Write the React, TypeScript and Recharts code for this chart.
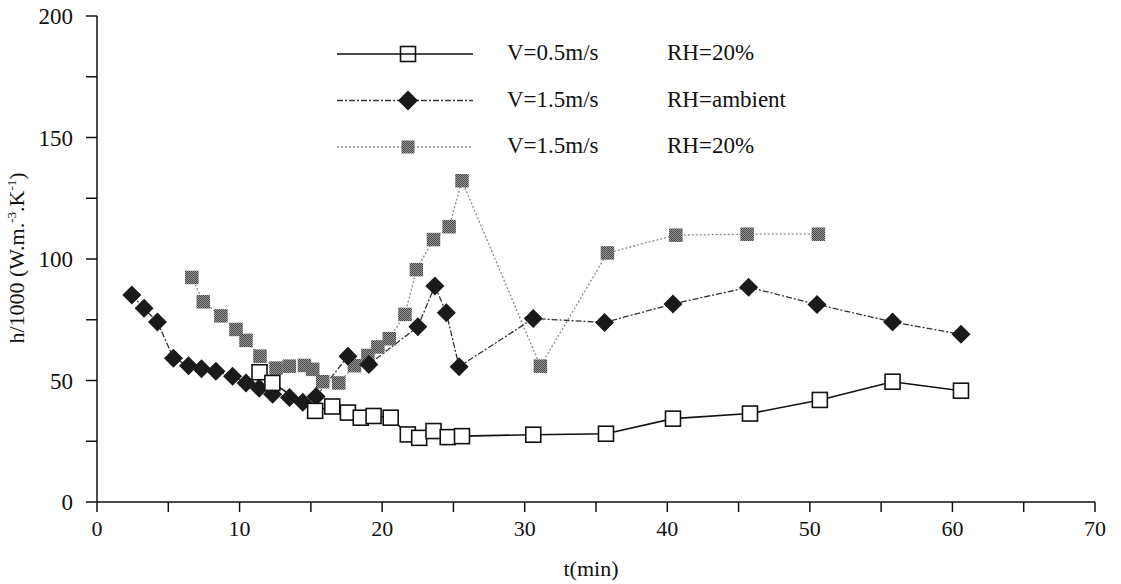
import { Legend, Line, LineChart, XAxis, YAxis } from "recharts";

// V=0.5 m/s, RH=20%
const slowTime = [11.4, 12.3, 15.3, 16.5, 17.6, 18.5, 19.4, 20.6, 21.8, 22.6, 23.6, 24.6, 25.6, 30.6, 35.7, 40.4, 45.8, 50.7, 55.8, 60.6];
const slowH = [53.4, 49.0, 37.5, 39.3, 36.8, 34.7, 35.4, 34.7, 27.8, 26.4, 29.2, 26.7, 27.1, 27.7, 28.1, 34.3, 36.4, 42.0, 49.5, 45.8];

// V=1.5 m/s, RH=ambient
const ambientTime = [2.44, 3.3, 4.24, 5.36, 6.42, 7.33, 8.34, 9.51, 10.45, 11.38, 12.32, 13.5, 14.43, 15.37, 17.6, 19.07, 22.5, 23.7, 24.5, 25.4, 30.6, 35.6, 40.4, 45.7, 50.5, 55.8, 60.6];
const ambientH = [85.2, 79.7, 74.1, 59.2, 56.1, 54.8, 53.8, 51.7, 49.0, 46.8, 44.3, 43.0, 41.0, 43.4, 60.0, 56.6, 72.1, 88.9, 77.9, 55.7, 75.5, 73.9, 81.5, 88.4, 81.3, 74.1, 69.0];

// V=1.5 m/s, RH=20%
const dryTime = [6.65, 7.45, 8.69, 9.75, 10.45, 11.43, 12.56, 13.49, 14.55, 15.13, 15.83, 16.96, 18.06, 19.0, 19.7, 20.5, 21.6, 22.4, 23.6, 24.7, 25.6, 31.1, 35.8, 40.6, 45.6, 50.6];
const dryH = [92.4, 82.4, 76.6, 71.0, 66.5, 60.0, 55.1, 55.9, 56.2, 54.6, 49.5, 49.0, 56.1, 60.3, 63.8, 67.2, 77.2, 95.6, 108.0, 113.3, 132.2, 55.9, 102.5, 109.8, 110.2, 110.2];

const speedLabels = ["V=0.5m/s", "V=1.5m/s", "V=1.5m/s"];
const rhLabels = ["RH=20%", "RH=ambient", "RH=20%"];

const xTicks = [0, 5, 10, 15, 20, 25, 30, 35, 40, 45, 50, 55, 60, 65, 70];
const yTicks = [0, 25, 50, 75, 100, 125, 150, 175, 200];

const toPoints = (ts: number[], hs: number[]) => ts.map((t, i) => ({ t, h: hs[i] }));

const FONT = "'Liberation Serif', 'Times New Roman', serif";
const INK = "#111";
const GREY_FILL = "url(#halftone) #707070";

// checkered dot screen for the grey markers
const Halftone = () => (
  <defs>
    <pattern id="halftone" width={2} height={2} patternUnits="userSpaceOnUse">
      <rect width={2} height={2} fill="#9a9a9a" />
      <rect width={1} height={1} fill="#444" />
      <rect x={1} y={1} width={1} height={1} fill="#444" />
    </pattern>
  </defs>
);

const OpenSquare = ({ cx, cy, s = 15, fill = "#fff" }: { cx: number; cy: number; s?: number; fill?: string }) => (
  <rect x={cx - s / 2} y={cy - s / 2} width={s} height={s} fill={fill} stroke={INK} strokeWidth={1.6} />
);

const Diamond = ({ cx, cy, r = 9.5 }: { cx: number; cy: number; r?: number }) => (
  <path d={`M${cx},${cy - r}L${cx + r},${cy}L${cx},${cy + r}L${cx - r},${cy}Z`} fill="#1a1a1a" />
);

const GreySquare = ({ cx, cy, s = 13.5 }: { cx: number; cy: number; s?: number }) => (
  <rect x={cx - s / 2} y={cy - s / 2} width={s} height={s} fill={GREY_FILL} />
);

const legendStroke = [
  { stroke: INK, dash: undefined, width: 1.6 },
  { stroke: "#333", dash: "6 2 2 2", width: 1.3 },
  { stroke: "#8a8a8a", dash: "2 2", width: 1.3 },
];

const renderMarker = (i: number, cx: number, cy: number) => {
  if (i === 0) return <OpenSquare cx={cx} cy={cy} fill="none" />;
  if (i === 1) return <Diamond cx={cx} cy={cy} r={10} />;
  return <GreySquare cx={cx} cy={cy} s={13} />;
};

const renderLegend = () => (
  <svg width={520} height={140}>
    <Halftone />
    {speedLabels.map((speed, i) => {
      const y = 24 + i * 46.5;
      const st = legendStroke[i];
      return (
        <g key={i}>
          <line x1={7} x2={143} y1={y} y2={y} stroke={st.stroke} strokeWidth={st.width} strokeDasharray={st.dash} />
          {renderMarker(i, 78, y)}
          <text x={177} y={y + 6} fontFamily={FONT} fontSize={23} fill={INK}>{speed}</text>
          <text x={337} y={y + 6} fontFamily={FONT} fontSize={23} fill={INK}>{rhLabels[i]}</text>
        </g>
      );
    })}
  </svg>
);

const YTitle = () => (
  <text transform="translate(24,258) rotate(-90)" textAnchor="middle" fontFamily={FONT} fontSize={22} fill={INK}>
    h/1000 (W.m.<tspan dy={-8} fontSize={13}>-3</tspan>
    <tspan dy={8}>.K</tspan>
    <tspan dy={-8} fontSize={13}>-1</tspan>
    <tspan dy={8}>)</tspan>
  </text>
);

const XTitle = () => (
  <text x={591} y={576} textAnchor="middle" fontFamily={FONT} fontSize={22} fill={INK}>
    t(min)
  </text>
);

export default function App() {
  return (
    <div style={{ position: "absolute", left: 0, top: 0, background: "#fff" }}>
      <LineChart width={1121} height={584} margin={{ top: 16, right: 26, bottom: 0, left: 0 }}>
        <XAxis
          type="number"
          dataKey="t"
          domain={[0, 70]}
          ticks={xTicks}
          tickFormatter={(v: number) => (v % 10 === 0 ? String(v) : "")}
          height={82}
          tickSize={10}
          tickMargin={8}
          tick={{ fontFamily: FONT, fontSize: 22, fill: INK }}
          stroke={INK}
          strokeWidth={1.5}
          label={<XTitle />}
        />
        <YAxis
          type="number"
          dataKey="h"
          domain={[0, 200]}
          ticks={yTicks}
          tickFormatter={(v: number) => (v % 50 === 0 ? String(v) : "")}
          width={97}
          tickSize={11}
          tickMargin={13}
          tick={{ fontFamily: FONT, fontSize: 23, fill: INK }}
          stroke={INK}
          strokeWidth={1.5}
          label={<YTitle />}
        />
        <Legend
          content={renderLegend}
          layout="vertical"
          align="center"
          verticalAlign="middle"
          wrapperStyle={{ position: "absolute", left: 330, top: 30, width: 520, height: 140 }}
        />
        <Line
          data={toPoints(dryTime, dryH)}
          dataKey="h"
          name="V=1.5m/s RH=20%"
          stroke="#8a8a8a"
          strokeWidth={1.3}
          strokeDasharray="2 2"
          dot={(p: any) => <GreySquare key={`d${p.index}`} cx={p.cx} cy={p.cy} />}
          activeDot={false}
          isAnimationActive={false}
        />
        <Line
          data={toPoints(ambientTime, ambientH)}
          dataKey="h"
          name="V=1.5m/s RH=ambient"
          stroke="#333"
          strokeWidth={1.3}
          strokeDasharray="6 2 2 2"
          dot={(p: any) => <Diamond key={`a${p.index}`} cx={p.cx} cy={p.cy} />}
          activeDot={false}
          isAnimationActive={false}
        />
        <Line
          data={toPoints(slowTime, slowH)}
          dataKey="h"
          name="V=0.5m/s RH=20%"
          stroke={INK}
          strokeWidth={1.6}
          dot={(p: any) => <OpenSquare key={`s${p.index}`} cx={p.cx} cy={p.cy} />}
          activeDot={false}
          isAnimationActive={false}
        />
      </LineChart>
    </div>
  );
}
